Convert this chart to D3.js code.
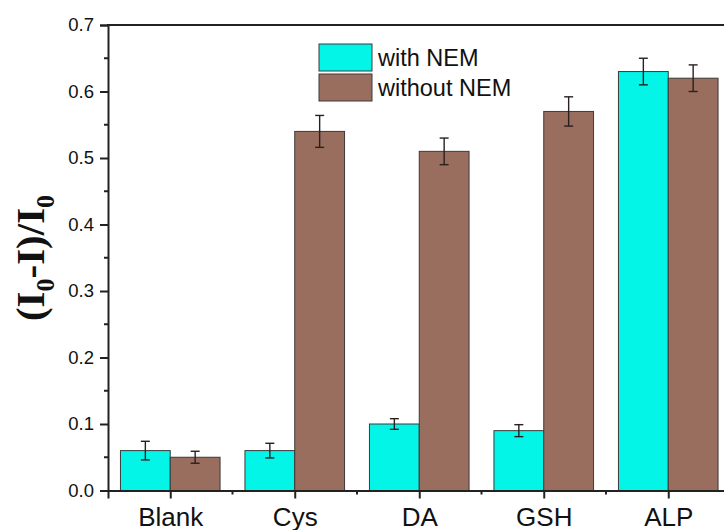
<!DOCTYPE html>
<html>
<head>
<meta charset="utf-8">
<script src="https://cdn.jsdelivr.net/npm/d3@7"></script>
<style>
  body { margin: 0; background: #fff; }
  svg { display: block; font-family: Arial, "Liberation Sans", sans-serif; }
</style>
</head>
<body>
<script>
// data
var categories = ["Blank", "Cys", "DA", "GSH", "ALP"];
var seriesNames = ["with NEM", "without NEM"];
var withNEM = [0.06, 0.06, 0.10, 0.09, 0.63];
var withNEMErr = [0.014, 0.011, 0.008, 0.009, 0.02];
var withoutNEM = [0.05, 0.54, 0.51, 0.57, 0.62];
var withoutNEMErr = [0.009, 0.024, 0.02, 0.022, 0.02];
var yTicks = [0, 0.1, 0.2, 0.3, 0.4, 0.5, 0.6, 0.7];

var colors = ["#03f5e8", "#9a6e5f"];
var W = 724, H = 530;

var svg = d3.select("body").append("svg")
    .attr("width", W).attr("height", H);

var x = d3.scaleLinear().domain([-0.5, 4.5]).range([108, 730.5]);
var y = d3.scaleLinear().domain([0, 0.7]).range([490.5, 25]);
var barW = 0.4; // in category units

var series = [
    {name: seriesNames[0], vals: withNEM, errs: withNEMErr, off: -barW},
    {name: seriesNames[1], vals: withoutNEM, errs: withoutNEMErr, off: 0}
];

series.forEach(function(s, si) {
    var g = svg.append("g");
    g.selectAll("rect")
        .data(s.vals)
        .enter()
        .append("rect")
        .attr("x", function(d, i) { return x(i + s.off); })
        .attr("width", function() { return x(barW) - x(0); })
        .attr("y", function(d) { return y(d); })
        .attr("height", function(d) { return y(0) - y(d); })
        .attr("fill", colors[si])
        .attr("stroke", "#3a3a3a")
        .attr("stroke-width", 1);

    // error bars
    var eg = g.selectAll(".err")
        .data(s.vals)
        .enter()
        .append("g")
        .attr("class", "err")
        .attr("stroke", "#2a2020")
        .attr("stroke-width", 1.4);
    eg.append("line")
        .attr("x1", function(d, i) { return x(i + s.off + barW / 2); })
        .attr("x2", function(d, i) { return x(i + s.off + barW / 2); })
        .attr("y1", function(d, i) { return y(d + s.errs[i]); })
        .attr("y2", function(d, i) { return y(d - s.errs[i]); });
    [1, -1].forEach(function(sign) {
        eg.append("line")
            .attr("x1", function(d, i) { return x(i + s.off + barW / 2) - 4.5; })
            .attr("x2", function(d, i) { return x(i + s.off + barW / 2) + 4.5; })
            .attr("y1", function(d, i) { return y(d + sign * s.errs[i]); })
            .attr("y2", function(d, i) { return y(d + sign * s.errs[i]); });
    });
});

// y axis
var yAxis = d3.axisLeft(y)
    .tickValues(yTicks)
    .tickFormat(d3.format(".1f"))
    .tickSize(8)
    .tickPadding(6);
var yg = svg.append("g")
    .attr("transform", "translate(108,0)")
    .call(yAxis);
yg.select(".domain").attr("stroke-width", 2).attr("stroke", "#222");
yg.selectAll(".tick line").attr("stroke-width", 2).attr("stroke", "#222");
yg.selectAll(".tick text").attr("font-size", 18.5).attr("fill", "#111")
    .attr("font-family", "Arial, 'Liberation Sans', sans-serif");
// minor y ticks
svg.append("g").selectAll("line")
    .data(yTicks.slice(0, -1))
    .enter().append("line")
    .attr("x1", 104).attr("x2", 108)
    .attr("y1", function(d) { return y(d + 0.05); })
    .attr("y2", function(d) { return y(d + 0.05); })
    .attr("stroke", "#222").attr("stroke-width", 2);

// x axis
var xAxis = d3.axisBottom(x)
    .tickValues(d3.range(categories.length))
    .tickFormat(function(d) { return categories[d]; })
    .tickSize(8)
    .tickPadding(9);
var xg = svg.append("g")
    .attr("transform", "translate(0," + y(0) + ")")
    .call(xAxis);
xg.select(".domain").attr("stroke-width", 2).attr("stroke", "#222");
xg.selectAll(".tick line").attr("stroke-width", 2).attr("stroke", "#222");
xg.selectAll(".tick text").attr("font-size", 26).attr("fill", "#111")
    .attr("font-family", "Arial, 'Liberation Sans', sans-serif");
// minor x ticks between groups
svg.append("g").selectAll("line")
    .data(d3.range(categories.length - 1))
    .enter().append("line")
    .attr("x1", function(d) { return x(d + 0.5); })
    .attr("x2", function(d) { return x(d + 0.5); })
    .attr("y1", y(0)).attr("y2", y(0) + 4)
    .attr("stroke", "#222").attr("stroke-width", 2);

// top frame line
svg.append("line")
    .attr("x1", 107).attr("x2", W)
    .attr("y1", y(0.7)).attr("y2", y(0.7))
    .attr("stroke", "#222").attr("stroke-width", 2);

// y axis title
var yt = svg.append("text")
    .attr("transform", "translate(44,258) rotate(-90)")
    .attr("text-anchor", "middle")
    .attr("font-family", "'Liberation Serif', 'Times New Roman', serif")
    .attr("font-weight", "bold")
    .attr("font-size", 41)
    .attr("fill", "#111");
yt.append("tspan").text("(I");
yt.append("tspan").attr("font-size", 26).attr("dy", 10).text("0");
yt.append("tspan").attr("dy", -10).text("-I)/I");
yt.append("tspan").attr("font-size", 26).attr("dy", 10).text("0");

// legend
var leg = svg.append("g").attr("transform", "translate(319,44)");
seriesNames.forEach(function(n, i) {
    leg.append("rect")
        .attr("x", 0).attr("y", i * 30)
        .attr("width", 53).attr("height", 27)
        .attr("fill", colors[i])
        .attr("stroke", "#3a3a3a").attr("stroke-width", 1);
    leg.append("text")
        .attr("x", 59).attr("y", i * 30 + 22)
        .attr("font-size", 23.5)
        .attr("fill", "#111")
        .text(n);
});
</script>
</body>
</html>
